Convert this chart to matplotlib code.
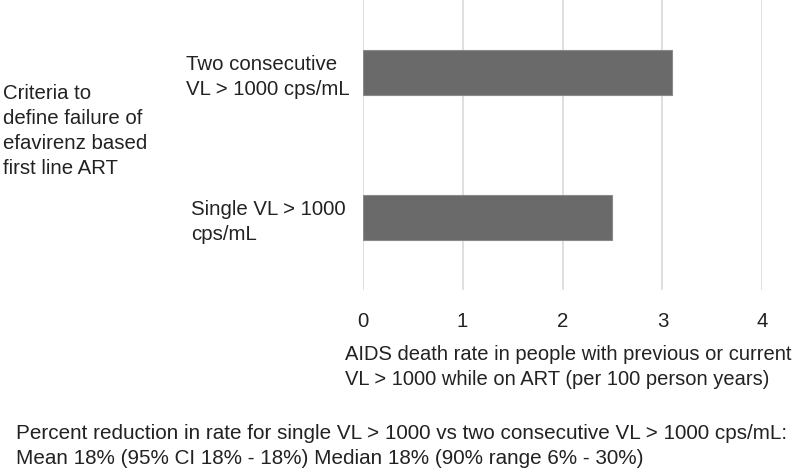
import matplotlib
matplotlib.use("Agg")
import matplotlib.pyplot as plt

plt.rcParams['font.family'] = ['Liberation Sans', 'DejaVu Sans']

categories = ["Single VL > 1000\ncps/mL", "Two consecutive\nVL > 1000 cps/mL"]
values = [2.5, 3.1]
xticks = [0, 1, 2, 3, 4]

FS = 14.7
TXT = '#222222'

fig = plt.figure(figsize=(8, 4.7), dpi=100)
ax = fig.add_axes([0.4534, 0.383, 0.4995, 0.617])

ypos = list(range(len(categories)))
ax.barh(ypos, values, height=0.316, color='#6a6a6a', edgecolor='#8a8a8a', linewidth=0.8, zorder=3)
ax.set_xlim(0, 4)
ax.set_ylim(-0.5, 1.5)
ax.set_xticks(xticks)
ax.set_xticklabels([str(t) for t in xticks], fontsize=FS, color=TXT)
ax.set_yticks(ypos)
ax.set_yticklabels(categories, fontsize=FS, color=TXT, ha='center', multialignment='left',
                   linespacing=1.40)
ax.tick_params(axis='y', length=0, pad=68)
ax.tick_params(axis='x', length=0, pad=16)
ax.grid(axis='x', color='#d9d9d9', linewidth=1.2, zorder=0)
for s in ax.spines.values():
    s.set_visible(False)

# va='baseline' anchors the last line's baseline
fig.text(345/800, 1 - 385/470, "AIDS death rate in people with previous or current\nVL > 1000 while on ART (per 100 person years)",
         fontsize=14.5, color=TXT, ha='left', va='baseline', linespacing=1.42)
fig.text(3/800, 1 - 174.5/470, "Criteria to\ndefine failure of\nefavirenz based\nfirst line ART",
         fontsize=FS, color=TXT, ha='left', va='baseline', linespacing=1.41)
fig.text(16/800, 1 - 464/470, "Percent reduction in rate for single VL > 1000 vs two consecutive VL > 1000 cps/mL:\nMean 18% (95% CI 18% - 18%) Median 18% (90% range 6% - 30%)",
         fontsize=14.87, color=TXT, ha='left', va='baseline', linespacing=1.40)

fig.savefig("out.png", dpi=100)
